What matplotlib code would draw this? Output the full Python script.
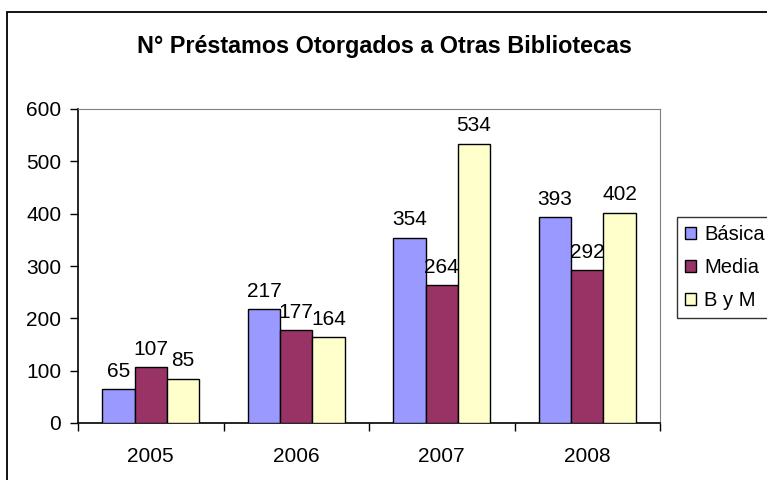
import matplotlib
matplotlib.use("Agg")
from matplotlib import pyplot as plt
from matplotlib.patches import Rectangle
import numpy as np

years = ["2005", "2006", "2007", "2008"]
basica = [65, 217, 354, 393]
media = [107, 177, 264, 292]
byM = [85, 164, 534, 402]
series_names = ["Básica", "Media", "B y M"]
colors = ["#9999FF", "#993366", "#FFFFCC"]


def main():
    plt.rcParams['font.family'] = ['Liberation Sans', 'DejaVu Sans']
    fig = plt.figure(figsize=(7.67, 4.8), dpi=100)
    ax = fig.add_axes([78 / 767, 1 - 423 / 480, 582 / 767, 314 / 480])

    # outer chart frame, running off the right and bottom edges
    fig.patches.append(Rectangle((7 / 767, -0.1), 1.1, 1 - 12 / 480 + 0.1,
                                 transform=fig.transFigure, fill=False,
                                 edgecolor='black', linewidth=1.3))

    x = np.arange(len(years))
    w = 1 / 4.5
    handles = []
    for i, (vals, name, c) in enumerate(zip([basica, media, byM], series_names, colors)):
        bars = ax.bar(x + (i - 1) * w, vals, w, color=c, edgecolor='black',
                      linewidth=1.0, label=name, zorder=3)
        handles.append(bars)
        for xi, v in zip(x + (i - 1) * w, vals):
            ax.annotate(str(v), (xi, v), xytext=(0, 6), textcoords='offset points',
                        ha='center', va='bottom', fontsize=15)

    ax.set_xlim(-0.5, 3.5)
    ax.set_ylim(0, 600)
    ax.set_yticks(range(0, 601, 100))
    ax.tick_params(axis='y', direction='out', length=6, width=1, pad=6, labelsize=15)
    ax.set_xticks(x)
    ax.set_xticklabels(years)
    ax.tick_params(axis='x', which='major', length=0, pad=17, labelsize=15)
    ax.set_xticks(np.arange(-0.5, 4.0, 1.0), minor=True)
    ax.tick_params(axis='x', which='minor', direction='out', length=6, width=1)

    ax.spines['top'].set_color('#808080')
    ax.spines['right'].set_color('#808080')
    ax.spines['left'].set_linewidth(1.2)
    ax.spines['bottom'].set_linewidth(1.2)

    fig.text(384 / 767, 1 - 46 / 480, "N° Préstamos Otorgados a Otras Bibliotecas",
             ha='center', va='center', fontsize=16.8, fontweight='bold')

    leg = fig.legend(handles=handles, labels=series_names, loc='upper left',
                     bbox_to_anchor=(677 / 767, 1 - 217 / 480), fontsize=14.5,
                     frameon=True, fancybox=False, borderpad=0.4,
                     handlelength=0.55, handleheight=0.55, handletextpad=0.4,
                     labelspacing=0.7, borderaxespad=0)
    leg.get_frame().set_edgecolor('black')
    leg.get_frame().set_linewidth(1.0)

    fig.savefig("out.png", dpi=100)


if __name__ == "__main__":
    main()
